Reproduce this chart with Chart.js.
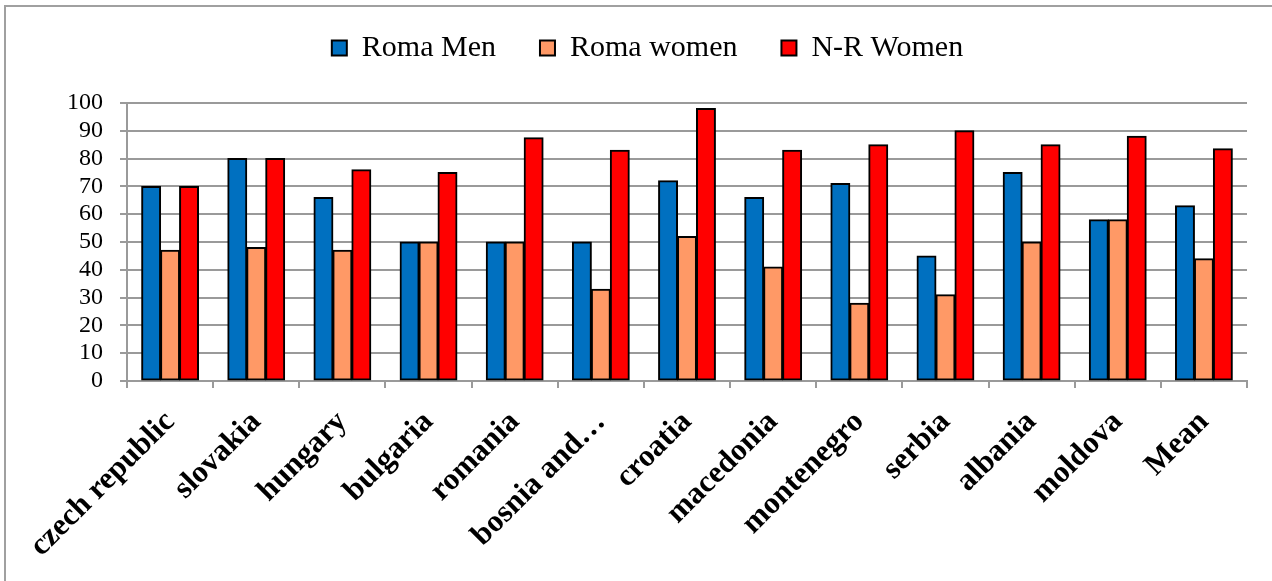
<!DOCTYPE html>
<html>
<head>
<meta charset="utf-8">
<title>Roma Men / Roma women / N-R Women</title>
<script src="https://cdn.jsdelivr.net/npm/chart.js@4/dist/chart.umd.min.js"></script>
<style>
  html, body { margin: 0; padding: 0; background: #fff; overflow: hidden; }
  .wrap { position: relative; width: 1272px; height: 581px; }
  /* outer frame of the chart object: only top and left edges are visible */
  .frame {
    position: absolute; left: 4px; top: 5px; width: 1400px; height: 700px;
    border-left: 2px solid #a0a0a0; border-top: 2px solid #a0a0a0;
  }
  #chart { position: absolute; left: 0; top: 0; }
</style>
</head>
<body>
<div class="wrap">
  <div class="frame"></div>
  <canvas id="chart" width="1272" height="581"></canvas>
</div>
<script>
// values (percent)
const countries = ["czech republic", "slovakia", "hungary", "bulgaria", "romania", "bosnia and…",
  "croatia", "macedonia", "montenegro", "serbia", "albania", "moldova", "Mean"];
const romaMen = [70, 80, 66, 50, 50, 50, 72, 66, 71, 45, 75, 58, 63];
const romaWomen = [47, 48, 47, 50, 50, 33, 52, 41, 28, 31, 50, 58, 44];
const nrWomen = [70, 80, 76, 75, 87.5, 83, 98, 83, 85, 90, 85, 88, 83.5];
const yTicks = [0, 10, 20, 30, 40, 50, 60, 70, 80, 90, 100];

const SERIF = "'Liberation Serif', 'Times New Roman', serif";
const GRID = "#9a9a9a";

// legend block: fixed height so the plot starts where the reference does,
// then nudged so its items sit where the reference has them
const LEGEND_H = 103;
const LEGEND_DY = -11;
const LEGEND_DX = 24;

const legendLayout = {
  id: "legendLayout",
  beforeLayout(chart) {
    const lg = chart.legend;
    if (lg && !lg._fixed) {
      const fit = lg.fit;
      lg.fit = function () {
        fit.call(this);
        this.height = LEGEND_H;
      };
      lg._fixed = true;
    }
  },
  afterLayout(chart) {
    const lg = chart.legend;
    if (!lg) return;
    lg.top += LEGEND_DY;
    lg.left += LEGEND_DX;
    lg.right += LEGEND_DX;
  },
};

function series(label, data, color) {
  return {
    label,
    data,
    backgroundColor: color,
    borderColor: "#000",
    borderWidth: 2,
    borderSkipped: false,
    inflateAmount: 0.5,
  };
}

new Chart(document.getElementById("chart"), {
  type: "bar",
  data: {
    labels: countries,
    datasets: [
      series("Roma Men", romaMen, "#0070C0"),
      series("Roma women", romaWomen, "#FF9966"),
      series("N-R Women", nrWomen, "#FF0000"),
    ],
  },
  options: {
    responsive: false,
    animation: false,
    layout: { padding: { left: 0, right: 25, top: 0, bottom: 0 } },
    datasets: { bar: { categoryPercentage: 0.66, barPercentage: 1 } },
    plugins: {
      legend: {
        position: "top",
        labels: {
          color: "#000",
          boxWidth: 15,
          boxHeight: 15,
          padding: 44,
          font: { family: SERIF, size: 30 },
        },
      },
      tooltip: { enabled: false },
    },
    scales: {
      x: {
        grid: { offset: true, drawOnChartArea: false, drawTicks: true, tickLength: 7, color: GRID, lineWidth: 2 },
        border: { display: true, color: GRID, width: 2 },
        ticks: {
          color: "#000",
          autoSkip: false,
          minRotation: 45,
          maxRotation: 45,
          padding: 16,
          font: { family: SERIF, size: 31, weight: "bold" },
        },
        afterFit(scale) { scale.height = 200; },
      },
      y: {
        min: 0,
        max: 100,
        afterBuildTicks(scale) { scale.ticks = yTicks.map((v) => ({ value: v })); },
        grid: { color: GRID, lineWidth: 2, tickLength: 7 },
        border: { display: true, color: GRID, width: 2 },
        ticks: {
          color: "#000",
          autoSkip: false,
          padding: 17,
          font: { family: SERIF, size: 24 },
        },
        afterFit(scale) { scale.width = 127; },
      },
    },
  },
  plugins: [legendLayout],
});
</script>
</body>
</html>
